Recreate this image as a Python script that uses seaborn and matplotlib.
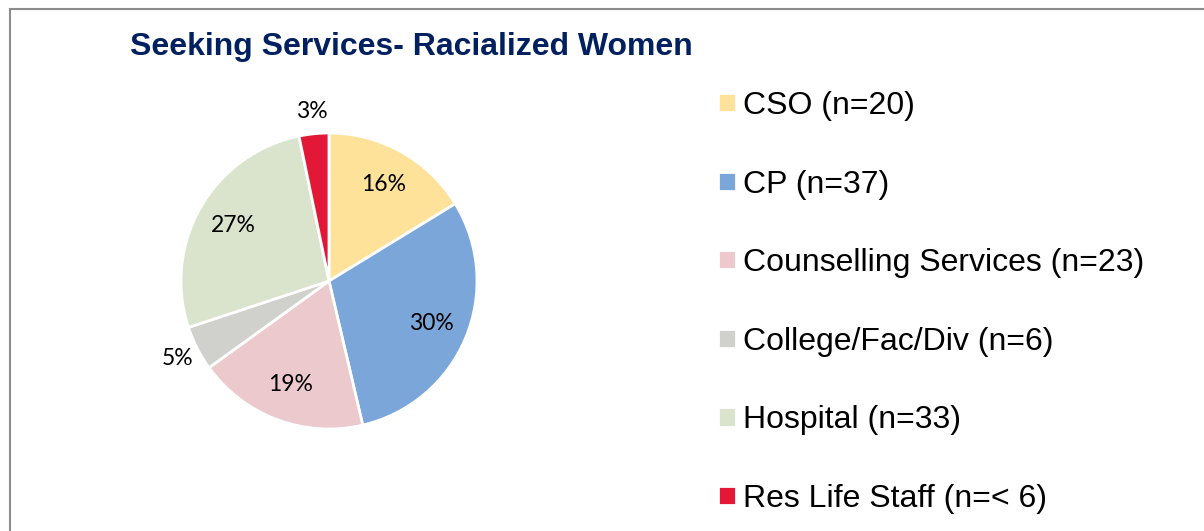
"""
Pie chart: where racialized women sought services.
"""

import matplotlib
matplotlib.use("Agg")
import matplotlib.pyplot as plt
from matplotlib.lines import Line2D
import numpy as np
import seaborn as sns

# data
services = ["CSO", "CP", "Counselling Services", "College/Fac/Div", "Hospital", "Res Life Staff"]
counts = [20, 37, 23, 6, 33, 4]
count_labels = ["20", "37", "23", "6", "33", "< 6"]
colors = ["#FFE29A", "#7BA6D9", "#EBC9CD", "#D0D0CC", "#DAE4CC", "#E31837"]
title = "Seeking Services- Racialized Women"

sns.set_style("white")
plt.rcParams["font.family"] = ["Liberation Sans", "DejaVu Sans"]

fig = plt.figure(figsize=(12.04, 5.31), dpi=100)
ax = fig.add_axes([144 / 1204, 65 / 531, 370 / 1204, 370 / 531])

wedges, texts, autotexts = ax.pie(
    counts, colors=colors, startangle=90, counterclock=False,
    autopct="%1.0f%%", pctdistance=0.75,
    wedgeprops=dict(edgecolor="white", linewidth=2),
    textprops=dict(family="Lato", fontsize=16.5, color="black"),
)
ax.set_xlim(-1.25, 1.25)
ax.set_ylim(-1.25, 1.25)
ax.set_aspect("equal")

# small slices get their label outside the pie
total = sum(counts)
for w, t, c in zip(wedges, autotexts, counts):
    if c / total < 0.06:
        ang = np.deg2rad((w.theta1 + w.theta2) / 2)
        t.set_position((1.15 * np.cos(ang), 1.15 * np.sin(ang)))

labels = [f"{s} (n={n})" for s, n in zip(services, count_labels)]
fig.legend(wedges, labels, loc="upper left", bbox_to_anchor=(718 / 1204, 1 - 91 / 531),
           frameon=False, fontsize=23, handlelength=0.55, handleheight=0.55,
           handletextpad=0.22, labelspacing=1.52, borderpad=0, borderaxespad=0,
           labelcolor="black")

fig.text(130 / 1204, 1 - 47 / 531, title, fontsize=23, fontweight="bold",
         color="#002060", va="center", ha="left")

# outer frame (left and top edges visible)
fig.add_artist(Line2D([10 / 1204, 10 / 1204], [0, 1 - 9 / 531], color="#8c8c8c", lw=1.5))
fig.add_artist(Line2D([10 / 1204, 1], [1 - 9 / 531, 1 - 9 / 531], color="#8c8c8c", lw=1.5))

fig.savefig("out.png", dpi=100, facecolor="white")
